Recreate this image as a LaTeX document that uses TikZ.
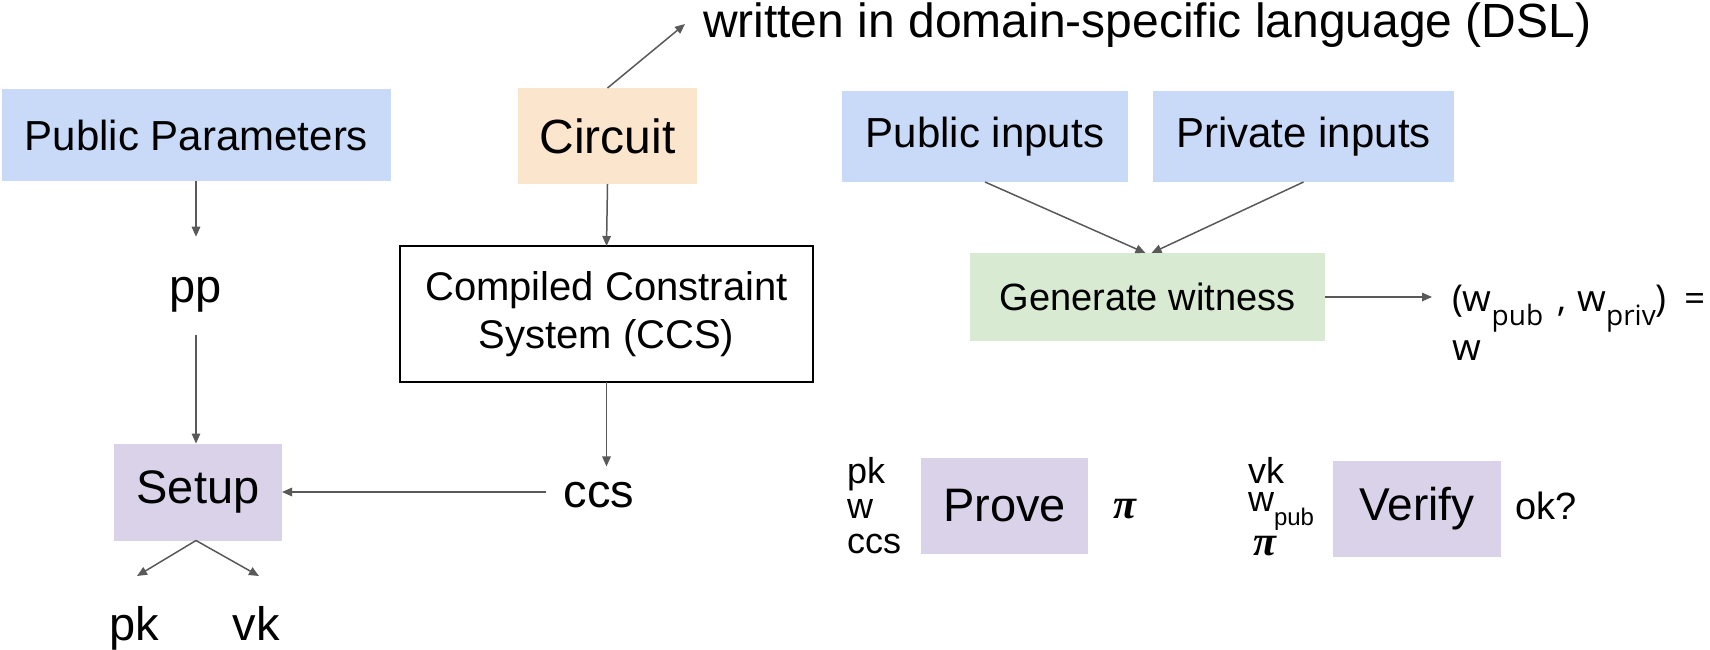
\documentclass[tikz,border=0pt]{standalone}
\usepackage{fontspec}
\setmainfont{Liberation Sans}
\newfontfamily\osans{Open Sans}
\newfontfamily\tnr{Liberation Serif}
\usetikzlibrary{arrows.meta}
\definecolor{pblue}{HTML}{C9DAF8}
\definecolor{porange}{HTML}{FCE5CD}
\definecolor{pgreen}{HTML}{D9EAD3}
\definecolor{ppurple}{HTML}{D9D2E9}
\definecolor{arrgray}{HTML}{595959}
\newcommand{\fsz}[1]{\fontsize{#1}{#1}\selectfont}
\newcommand{\bpi}{{\tnr\bfseries\itshape\fontsize{42}{42}\selectfont π}}
\newcommand{\tightlines}{\lineskiplimit-100pt\relax}
\begin{document}
\begin{tikzpicture}[x=1pt,y=-1pt,
  fillbox/.style={inner sep=0pt, outer sep=0pt},
  txt/.style={inner sep=0pt, outer sep=0pt},
  arrow/.style={draw=arrgray, line width=1.5pt, -{Triangle[length=10pt,width=8.5pt]}}]
\useasboundingbox (0,0) rectangle (1710,650);

% top row
\node[fillbox, fill=pblue, minimum width=389pt, minimum height=92pt, font=\fsz{42}] (ppbox) at (196.5,135) {Public Parameters};
\node[fillbox, fill=porange, minimum width=179pt, minimum height=96pt, font=\fsz{48}] (circ) at (607.5,136) {Circuit};
\node[txt, anchor=base west, font=\fsz{48}] (dsl) at (703,38) {written in domain-specific language (DSL)};
\coordinate (dslpt) at (685,24);
\draw[arrow] (circ.north) -- (dslpt);

\node[fillbox, fill=pblue, minimum width=286pt, minimum height=91pt, font=\fsz{42}] (pubin) at (985,136.5) {Public inputs};
\node[fillbox, fill=pblue, minimum width=301pt, minimum height=91pt, font=\fsz{42}] (privin) at (1303.5,136.5) {Private inputs};

% left column
\node[txt, anchor=base, font=\fsz{47}] (pp) at (196,302) {pp};
\draw[arrow, shorten >=40pt] (ppbox.south -| pp.north) -- (pp.north);
\node[fillbox, fill=ppurple, minimum width=168pt, minimum height=97pt, font=\fsz{47}] (setup) at (198,492) {Setup};
\draw[arrow, shorten <=23pt] (pp.south) -- (pp.south |- setup.north);
\node[txt, anchor=base, font=\fsz{47}] (pk) at (134,640) {pk};
\node[txt, anchor=base, font=\fsz{47}] (vk) at (256,640) {vk};
\coordinate (pktip) at (137,576);
\coordinate (vktip) at (259,576);
\draw[arrow] ([xshift=-2pt]setup.south) -- (pktip);
\draw[arrow] ([xshift=-2pt]setup.south) -- (vktip);

% middle column
\node[fillbox, draw=black, line width=2pt, fill=white, minimum width=413pt, minimum height=136pt, align=center, font=\fontsize{40}{48}\selectfont] (ccsbox) at (606.5,314) {Compiled Constraint\\System (CCS)};
\draw[arrow] (circ.south) -- (ccsbox.north);
\node[txt, anchor=base, font=\fsz{47}] (ccs) at (599,507) {ccs};
\draw[arrow, shorten >=41pt] (ccsbox.south) -- (ccsbox.south |- ccs.south);
\draw[arrow, shorten <=18pt] (ccs.west |- setup.east) -- (setup.east);

% witness
\node[fillbox, fill=pgreen, minimum width=355pt, minimum height=88pt, font=\fsz{38}] (gw) at (1147.5,297) {Generate witness};
\draw[arrow] (pubin.south) -- ([xshift=-2pt]gw.north);
\draw[arrow] (privin.south) -- ([xshift=4pt]gw.north);
\node[txt, anchor=base west, align=left, font=\osans\fontsize{37}{49}\selectfont] (wit) at (1452,360)
  {(w\raisebox{-14pt}{\fontsize{28}{28}\selectfont pub}\hspace{14pt},\hspace{11pt}w\raisebox{-14pt}{\fontsize{28}{28}\selectfont priv})\hspace{18pt}=\\w};
\draw[arrow, shorten >=20pt] (gw.east) -- (gw.east -| wit.west);

% prove
\node[fillbox, fill=ppurple, minimum width=167pt, minimum height=96pt, font=\fsz{47}] (prove) at (1004.5,506) {Prove};
\node[txt, anchor=base west, align=left, font=\fontsize{36}{35}\selectfont] (proveins) at (847,553) {pk\\w\\ccs};
\node[txt, anchor=base west] (proveout) at (1113,518) {\bpi};

% verify
\node[fillbox, fill=ppurple, minimum width=168pt, minimum height=96pt, font=\fsz{46}] (verify) at (1417,509) {Verify};
\node[txt, anchor=base west, align=left, font=\fontsize{36}{28}\selectfont\tightlines] (verifyins) at (1248,555)
  {vk\\w\raisebox{-14pt}{\fsz{24}pub}\\[16pt]\hspace{5pt}\bpi};
\node[txt, anchor=base west, font=\fsz{38}] (ok) at (1515,519) {ok?};
\end{tikzpicture}
\end{document}
